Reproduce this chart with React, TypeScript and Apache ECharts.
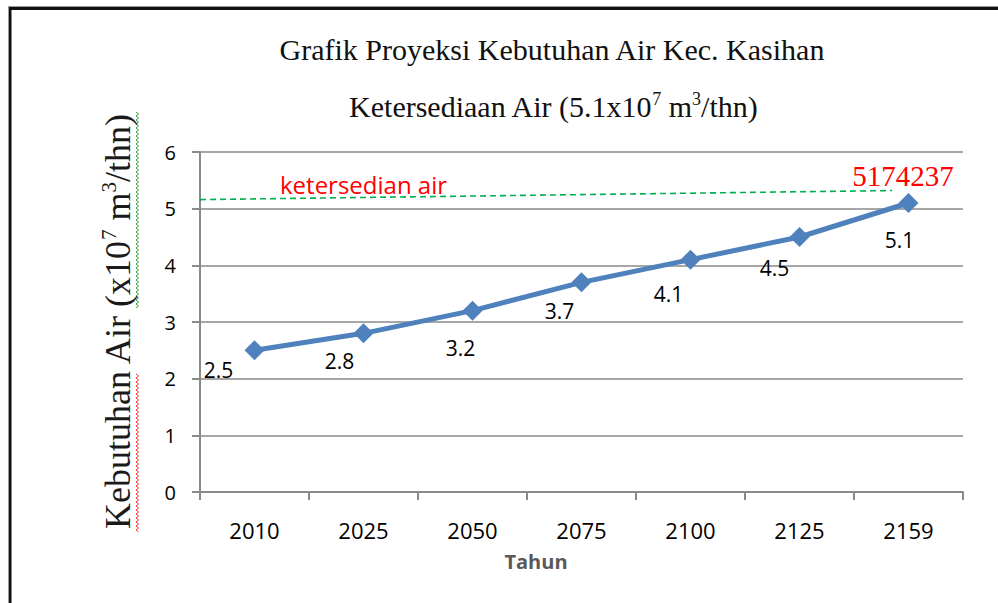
import React, { useEffect, useRef } from "react";
import * as echarts from "echarts";

// ---- data ----
const years = ["2010", "2025", "2050", "2075", "2100", "2125", "2159"];
const demand = [2.5, 2.8, 3.2, 3.7, 4.1, 4.5, 5.1];
const yTickMin = 0;
const yTickMax = 6;
const yTickStep = 1;
// dashed "ketersedian air" reference line (hidden value x-axis, 0..7 = category span)
const availabilityX = [0, 6.35];
const availabilityY = [5.16, 5.32];
const availabilityName = "ketersedian air";
const availabilityValue = "5174237";

// ---- styles ----
const labelOffsets = [
  [-36, 20],
  [-24, 28],
  [-12, 37],
  [-22, 29],
  [-22, 34],
  [-25, 31],
  [-9, 37],
];
const SANS = "'Open Sans', 'Noto Sans', sans-serif";
const SERIF = "'Liberation Serif', 'DejaVu Serif', serif";
const AXIS = "#8a8a8a";

function squiggle(x: number, y0: number, y1: number, color: string) {
  const pts: number[][] = [];
  let k = 0;
  for (let y = y0; y <= y1; y += 2) {
    pts.push([k % 2 === 0 ? x : x + 2.5, y]);
    k++;
  }
  return {
    type: "polyline",
    shape: { points: pts },
    style: { stroke: color, lineWidth: 1, fill: null },
    silent: true,
  };
}

export default function App() {
  const ref = useRef<HTMLDivElement>(null);
  useEffect(() => {
    if (!ref.current) return;
    const chart = echarts.init(ref.current, null, { renderer: "svg" });
    const option: any = {
      animation: false,
      backgroundColor: "#ffffff",
      grid: {
        left: 200,
        right: 35,
        top: 152,
        bottom: 111,
        outerBoundsMode: "none",
        containLabel: false,
      },
      xAxis: [
        {
          type: "category",
          data: years,
          boundaryGap: true,
          axisLine: { show: true, lineStyle: { color: AXIS, width: 2 } },
          axisTick: { show: true, length: 8, lineStyle: { color: AXIS, width: 2 } },
          axisLabel: {
            color: "#000",
            fontFamily: SANS,
            fontSize: 22,
            margin: 27,
          },
          splitLine: { show: false },
        },
        {
          type: "value",
          min: 0,
          max: years.length,
          show: false,
        },
      ],
      yAxis: {
        type: "value",
        min: yTickMin,
        max: yTickMax,
        interval: yTickStep,
        name: "Kebutuhan Air (x10{sup|7} m{sup|3}/thn)",
        nameLocation: "middle",
        nameRotate: 90,
        nameGap: 62,
        nameTextStyle: {
          fontFamily: SERIF,
          fontSize: 36,
          color: "#1a1a1a",
          lineHeight: 40,
          rich: {
            sup: {
              fontFamily: SERIF,
              fontSize: 21,
              color: "#1a1a1a",
              lineHeight: 21,
              verticalAlign: "top",
            },
          },
        },
        axisLine: { show: true, lineStyle: { color: AXIS, width: 2 } },
        axisTick: { show: true, length: 8, lineStyle: { color: AXIS, width: 2 } },
        axisLabel: {
          color: "#000",
          fontFamily: SANS,
          fontSize: 20,
          margin: 24,
        },
        splitLine: { show: true, lineStyle: { color: AXIS, width: 1.5 } },
      },
      series: [
        {
          type: "line",
          xAxisIndex: 1,
          yAxisIndex: 0,
          data: availabilityX.map((x, i) => [x, availabilityY[i]]),
          symbol: "none",
          lineStyle: { color: "#00B050", width: 1.6, type: [6, 4] },
          z: 1,
          silent: true,
        },
        {
          type: "line",
          xAxisIndex: 0,
          yAxisIndex: 0,
          data: demand.map((v, i) => ({
            value: v,
            label: { offset: labelOffsets[i] },
          })),
          symbol: "diamond",
          symbolSize: 20,
          itemStyle: { color: "#4F81BD" },
          lineStyle: { color: "#4F81BD", width: 5 },
          label: {
            show: true,
            position: "inside",
            color: "#000",
            fontFamily: SANS,
            fontSize: 21,
            formatter: (p: any) => Number(p.value).toFixed(1),
          },
          z: 3,
        },
      ],
      graphic: [
        // outer frame
        { type: "rect", shape: { x: 8, y: 6, width: 990, height: 1 }, style: { fill: "#9a9a9a" }, silent: true },
        { type: "rect", shape: { x: 9, y: 7, width: 989, height: 3 }, style: { fill: "#111" }, silent: true },
        { type: "rect", shape: { x: 8, y: 6, width: 1, height: 597 }, style: { fill: "#9a9a9a" }, silent: true },
        { type: "rect", shape: { x: 9, y: 7, width: 2.5, height: 596 }, style: { fill: "#111" }, silent: true },
        // titles
        {
          type: "text",
          x: 552,
          y: 49,
          style: {
            text: "Grafik Proyeksi Kebutuhan Air Kec. Kasihan",
            font: `30px ${SERIF}`,
            fill: "#111",
            align: "center",
            verticalAlign: "middle",
          },
          silent: true,
        },
        {
          type: "text",
          x: 553,
          y: 106,
          style: {
            text: "Ketersediaan Air (5.1x10{sup|7} m{sup|3}/thn)",
            font: `30px ${SERIF}`,
            fill: "#111",
            align: "center",
            verticalAlign: "middle",
            lineHeight: 32,
            rich: {
              sup: { font: `18px ${SERIF}`, fill: "#111", lineHeight: 18, verticalAlign: "top" },
            },
          },
          silent: true,
        },
        // reference line labels
        {
          type: "text",
          x: 280,
          y: 184,
          style: {
            text: availabilityName,
            font: `24px ${SANS}`,
            fill: "#FF0000",
            align: "left",
            verticalAlign: "middle",
          },
          silent: true,
        },
        {
          type: "text",
          x: 903,
          y: 176,
          style: {
            text: availabilityValue,
            font: `29px ${SERIF}`,
            fill: "#FF0000",
            align: "center",
            verticalAlign: "middle",
          },
          silent: true,
        },
        // x axis title
        {
          type: "text",
          x: 536,
          y: 561,
          style: {
            text: "Tahun",
            font: `bold 20px ${SANS}`,
            fill: "#595959",
            align: "center",
            verticalAlign: "middle",
          },
          silent: true,
        },
        // spell-check squiggles under the y-axis title
        squiggle(136, 374, 532, "#FF3030"),
        squiggle(136, 112, 308, "#3aa03a"),
      ],
    };
    chart.setOption(option);
    return () => chart.dispose();
  }, []);
  return (
    <div style={{ position: "fixed", left: 0, top: 0, width: 998, height: 603, background: "#fff" }}>
      <div ref={ref} style={{ width: 998, height: 603 }} />
    </div>
  );
}
